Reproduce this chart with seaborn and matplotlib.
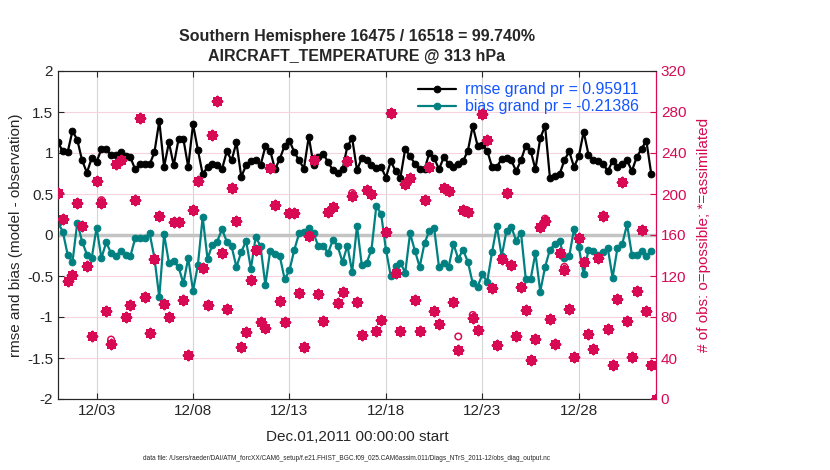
import numpy as np
import pandas as pd
import matplotlib
matplotlib.use("Agg")
import matplotlib.pyplot as plt
import matplotlib.dates as mdates
import seaborn as sns

# values, 6-hourly from Dec 01 2011 00Z
rmse = [1.13, 1.02, 1.01, 1.27, 1.16, 0.91, 0.76, 0.94, 0.89, 1.05,
        1.05, 0.97, 0.97, 1.01, 0.96, 0.95, 0.80, 0.86, 0.86, 0.86,
        1.01, 1.39, 0.83, 1.13, 0.85, 1.17, 1.17, 0.83, 1.35, 1.04,
        0.74, 0.83, 0.86, 0.85, 0.80, 1.02, 0.91, 1.13, 0.71, 0.85,
        0.90, 0.91, 0.85, 1.08, 1.03, 0.80, 0.93, 1.09, 1.15, 1.01,
        0.91, 0.81, 1.20, 0.85, 0.95, 0.99, 0.89, 0.79, 0.76, 0.80,
        1.08, 1.18, 0.79, 0.94, 0.91, 0.85, 0.82, 0.83, 0.70, 0.90,
        0.78, 0.70, 1.05, 0.96, 0.87, 0.80, 0.80, 1.00, 0.94, 0.80,
        0.95, 0.87, 0.83, 0.87, 0.90, 1.03, 1.33, 1.09, 1.10, 1.03,
        0.83, 0.83, 0.93, 0.94, 0.91, 0.78, 0.91, 1.09, 1.03, 0.80,
        1.18, 1.33, 0.70, 0.72, 0.74, 0.91, 1.02, 0.83, 0.96, 1.26,
        0.98, 0.91, 0.90, 0.87, 0.78, 0.90, 0.83, 0.86, 0.91, 0.78,
        0.95, 1.05, 1.15, 0.75, np.nan]

bias = [0.15, 0.04, -0.24, -0.33, 0.15, -0.08, -0.24, -0.28, 0.09, -0.28,
        -0.09, -0.22, -0.26, -0.19, -0.24, -0.26, -0.04, -0.04, -0.04, 0.02,
        -0.28, -0.76, 0.01, -0.34, -0.32, -0.39, -0.59, -0.28, -0.68, -0.37,
        0.22, -0.29, -0.12, -0.08, 0.07, -0.08, -0.14, -0.39, -0.21, -0.07,
        -0.41, -0.02, -0.14, -0.61, -0.19, -0.23, -0.26, -0.54, -0.43, -0.18,
        0.02, 0.04, 0.09, 0.02, -0.14, -0.13, -0.22, -0.06, -0.14, -0.33,
        -0.13, -0.45, 0.11, -0.37, -0.34, -0.18, 0.35, 0.26, -0.18, -0.50,
        -0.38, -0.34, -0.46, 0.02, -0.19, -0.39, -0.10, 0.05, 0.08, -0.39,
        -0.34, -0.39, -0.11, -0.29, -0.18, -0.33, -0.59, -0.63, -0.48, -0.57,
        -0.21, 0.11, -0.26, 0.05, 0.10, -0.07, 0.03, -0.54, -0.54, -0.22,
        -0.69, -0.39, -0.18, -0.11, -0.07, -0.28, -0.26, 0.07, -0.15, -0.48,
        -0.18, -0.20, -0.24, -0.21, -0.16, -0.52, -0.16, -0.11, 0.13, -0.24,
        -0.24, -0.19, -0.26, -0.19, np.nan]

nused = [201, 176, 115, 121, 191, 169, 130, 61, 213, 191,
         86, 54, 229, 233, 80, 92, 194, 274, 100, 64,
         137, 179, 93, 80, 173, 173, 97, 43, 184, 213,
         128, 92, 258, 291, 142, 88, 206, 174, 51, 65,
         116, 145, 75, 69, 225, 189, 96, 75, 181, 181,
         103, 51, 159, 233, 102, 76, 182, 187, 94, 104,
         232, 198, 95, 62, 204, 200, 66, 77, 163, 279,
         123, 66, 210, 216, 97, 66, 194, 226, 86, 73,
         206, 203, 95, 48, 184, 182, 79, 67, 278, 253,
         108, 53, 137, 201, 131, 61, 109, 87, 38, 59,
         168, 174, 78, 54, 142, 126, 88, 41, 157, 134,
         63, 49, 138, 179, 68, 33, 98, 212, 76, 41,
         105, 165, 86, 33, 0]

# possible obs differ from used only at a few times
extra_possible = {9: 3, 11: 4, 61: 3, 83: 13, 86: 3, 101: 2, 105: 3}

times = pd.date_range("2011-12-01 00:00", periods=len(nused), freq="6h")
nposs = list(nused)
for k, v in extra_possible.items():
    nposs[k] += v

df = pd.DataFrame({"time": times, "rmse": rmse, "bias": bias,
                   "nposs": nposs, "nused": nused})

title1 = "Southern Hemisphere 16475 / 16518 = 99.740%"
title2 = "AIRCRAFT_TEMPERATURE @ 313 hPa"
rmse_label = "rmse grand pr = 0.95911"
bias_label = "bias grand pr = -0.21386"
footer = ("data file: /Users/raeder/DAI/ATM_forcXX/CAM6_setup/"
          "f.e21.FHIST_BGC.f09_025.CAM6assim.011/Diags_NTrS_2011-12/obs_diag_output.nc")

sns.set_style("ticks")
plt.rcParams["font.family"] = ["Liberation Sans", "DejaVu Sans"]

crimson = "#D70A53"
teal = "#008080"

fig = plt.figure(figsize=(8.3, 4.7), dpi=100)
ax1 = fig.add_axes([58 / 830, 71 / 470, 598 / 830, 328 / 470])

ax1.axhline(0, color="#C4C4C4", lw=2.5, zorder=1)
sns.lineplot(data=df, x="time", y="rmse", ax=ax1, color="black", lw=1.6,
             marker="o", markersize=4.8, markeredgecolor="black", label=rmse_label, zorder=3)
sns.lineplot(data=df, x="time", y="bias", ax=ax1, color=teal, lw=1.6,
             marker="o", markersize=4.8, markeredgecolor=teal, label=bias_label, zorder=3)

ax1.set_xlim(pd.Timestamp("2011-12-01"), pd.Timestamp("2012-01-01"))
ax1.set_ylim(-2, 2)
ax1.set_yticks(np.arange(-2, 2.01, 0.5))
ax1.set_yticklabels(["-2", "-1.5", "-1", "-0.5", "0", "0.5", "1", "1.5", "2"])
ax1.xaxis.set_major_locator(mdates.DayLocator(bymonthday=[3, 8, 13, 18, 23, 28]))
ax1.xaxis.set_major_formatter(mdates.DateFormatter("%m/%d"))
ax1.tick_params(direction="in", length=4, labelsize=11, top=True, right=False)
ax1.grid(axis="x", color="#D5D5D5", lw=0.8)
ax1.grid(axis="y", color="#F6D3DF", lw=0.8)
ax1.set_xlabel("Dec.01,2011 00:00:00 start", fontsize=11, labelpad=9)
ax1.set_ylabel("rmse and bias (model - observation)", fontsize=11, labelpad=3)
for s in ax1.spines.values():
    s.set_color("#262626")

leg = ax1.legend(loc="upper right", bbox_to_anchor=(0.99, 1.0), frameon=False,
                 fontsize=11.4, handlelength=2.4, handletextpad=0.6,
                 labelspacing=0.15, borderaxespad=0.3)
for t in leg.get_texts():
    t.set_color("#1455FF")

ax2 = ax1.twinx()
sns.scatterplot(data=df, x="time", y="nposs", ax=ax2, marker="o", s=22,
                facecolor="none", edgecolor=crimson, linewidth=1.1, zorder=4)
sns.scatterplot(data=df, x="time", y="nused", ax=ax2, marker=(8, 2, 0), s=38,
                color=crimson, edgecolor=crimson, linewidth=2.2, zorder=5)
ax2.set_ylim(0, 320)
ax2.set_yticks(np.arange(0, 321, 40))
ax2.tick_params(direction="in", length=4, labelsize=11, colors=crimson)
ax2.spines["right"].set_color(crimson)
ax2.set_ylabel("# of obs: o=possible; *=assimilated", color=crimson, fontsize=11, labelpad=8)
ax2.set_xlabel("")
ax2.set_xlim(pd.Timestamp("2011-12-01"), pd.Timestamp("2012-01-01"))

fig.text(357 / 830, 1 - 37 / 470, title1, ha="center", va="center",
         fontsize=11.5, fontweight="bold")
fig.text(357 / 830, 1 - 57 / 470, title2, ha="center", va="center",
         fontsize=11.5, fontweight="bold")
fig.text(346 / 830, 1 - 458 / 470, footer, ha="center", va="center", fontsize=4.7)

fig.savefig("out.png", dpi=100)
